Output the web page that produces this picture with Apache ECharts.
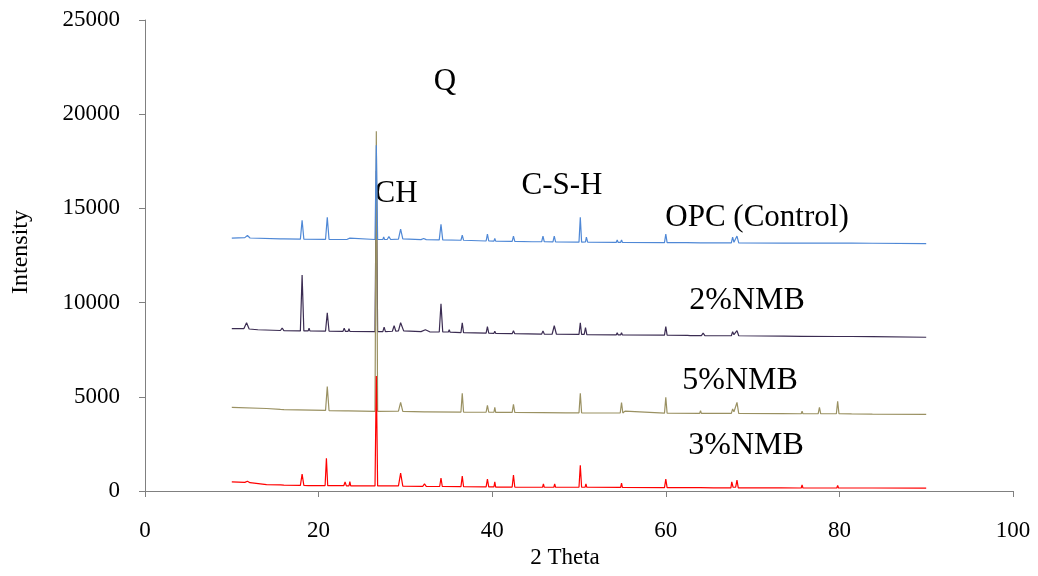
<!DOCTYPE html>
<html>
<head>
<meta charset="utf-8">
<script src="https://cdn.jsdelivr.net/npm/echarts@6/dist/echarts.min.js"></script>
<style>html,body{margin:0;padding:0;background:#fff}#c{width:1038px;height:576px}</style>
</head>
<body>
<div id="c"></div>
<script>
// X-ray diffraction patterns: [2 theta, intensity]
const opcControl = [[10,13420],[11.5,13450],[11.8,13560],[12.1,13430],[15.6,13380],[15.8,13440],[16.0,13380],[17.9,13370],[18.1,14370],[18.3,13370],[20.8,13360],[21.0,14530],[21.2,13360],[22.9,13350],[23.1,13450],[23.3,13360],[23.5,13350],[23.6,13420],[23.8,13350],[26.5,13350],[26.65,18350],[26.8,13350],[27.4,13350],[27.5,13480],[27.6,13350],[27.9,13350],[28.1,13500],[28.3,13350],[29.2,13370],[29.45,13900],[29.7,13380],[31.8,13340],[32.1,13400],[32.4,13340],[33.9,13330],[34.1,14160],[34.3,13330],[36.4,13310],[36.55,13580],[36.7,13310],[39.3,13270],[39.45,13640],[39.6,13270],[40.2,13260],[40.3,13400],[40.4,13260],[42.3,13250],[42.45,13530],[42.6,13250],[44.6,13230],[44.7,13320],[44.8,13230],[45.7,13230],[45.85,13530],[46.0,13230],[47.0,13220],[47.15,13530],[47.3,13220],[50.0,13210],[50.15,14530],[50.3,13210],[50.75,13220],[50.85,13480],[51.0,13210],[54.3,13200],[54.4,13330],[54.5,13200],[54.8,13200],[54.9,13330],[55.0,13200],[59.85,13180],[60.0,13640],[60.15,13180],[62.4,13180],[62.5,13270],[62.6,13170],[64.0,13170],[64.1,13250],[64.2,13170],[67.55,13170],[67.7,13480],[67.85,13200],[68.05,13200],[68.2,13530],[68.4,13170],[73.6,13160],[73.7,13240],[73.8,13160],[75.6,13160],[75.7,13240],[75.8,13160],[77.6,13160],[77.7,13220],[77.8,13160],[79.8,13160],[79.9,13260],[80.0,13160],[81.4,13160],[81.5,13240],[81.6,13160],[83.8,13150],[83.9,13220],[84.0,13150],[90,13130]];

const nmb2 = [[10,8620],[11.4,8620],[11.7,8930],[12.0,8600],[13,8560],[15.6,8520],[15.8,8650],[16.0,8510],[17.9,8500],[18.1,11470],[18.3,8500],[18.8,8500],[18.9,8640],[19.0,8500],[20.8,8490],[21.0,9460],[21.2,8490],[22.8,8470],[22.95,8640],[23.1,8470],[23.4,8470],[23.5,8620],[23.6,8470],[26.5,8460],[26.65,17000],[26.8,8460],[27.4,8460],[27.55,8700],[27.7,8460],[28.5,8480],[28.7,8770],[28.9,8480],[29.2,8500],[29.45,8930],[29.8,8500],[31.8,8460],[32.3,8560],[32.8,8450],[33.9,8440],[34.1,9940],[34.3,8440],[34.95,8440],[35.05,8560],[35.15,8430],[36.4,8410],[36.55,8930],[36.7,8410],[39.3,8380],[39.45,8720],[39.6,8380],[40.2,8370],[40.3,8480],[40.4,8370],[42.3,8350],[42.45,8500],[42.6,8350],[45.7,8330],[45.85,8500],[46.0,8330],[46.9,8320],[47.15,8770],[47.4,8320],[50.0,8310],[50.15,8930],[50.3,8310],[50.6,8310],[50.75,8670],[50.9,8300],[54.3,8290],[54.4,8400],[54.5,8290],[54.8,8290],[54.9,8400],[55.0,8280],[59.85,8270],[60.0,8720],[60.15,8270],[62.5,8260],[62.65,8350],[62.8,8250],[64.1,8250],[64.3,8380],[64.5,8250],[67.55,8240],[67.7,8450],[67.85,8300],[68.05,8300],[68.2,8510],[68.4,8240],[73.6,8220],[73.7,8280],[73.8,8220],[75.6,8210],[75.7,8290],[75.8,8210],[79.8,8200],[79.9,8280],[80.0,8200],[81.4,8200],[81.5,8270],[81.6,8200],[83.8,8190],[83.9,8260],[84.0,8190],[90,8160]];

const nmb5 = [[10,4440],[14,4380],[15.6,4330],[15.8,4400],[16.0,4320],[20.8,4280],[21.0,5550],[21.2,4270],[23.1,4250],[23.25,4350],[23.4,4250],[26.5,4230],[26.65,19100],[26.8,4230],[29.2,4240],[29.45,4700],[29.7,4230],[32.2,4200],[32.35,4280],[32.5,4200],[36.4,4190],[36.55,5180],[36.7,4190],[39.3,4180],[39.45,4550],[39.6,4180],[40.2,4180],[40.3,4440],[40.4,4170],[42.3,4170],[42.45,4600],[42.6,4170],[45.75,4160],[45.85,4260],[45.95,4160],[48.5,4150],[48.6,4230],[48.7,4150],[50.0,4150],[50.15,5180],[50.3,4150],[54.75,4140],[54.9,4700],[55.05,4140],[55.2,4140],[55.3,4240],[55.4,4140],[59.85,4130],[60.0,4970],[60.15,4130],[63.9,4120],[64.0,4260],[64.1,4120],[67.55,4120],[67.7,4350],[67.85,4200],[68.05,4200],[68.2,4700],[68.4,4120],[73.3,4110],[73.4,4170],[73.5,4110],[75.6,4100],[75.7,4230],[75.8,4100],[77.55,4100],[77.7,4440],[77.85,4100],[79.65,4100],[79.8,4760],[79.95,4100],[81.4,4090],[81.5,4170],[81.6,4090],[83.8,4080],[83.9,4150],[84.0,4080],[90,4070]];

const nmb3 = [[10,480],[11.5,460],[11.8,520],[12.1,440],[14,340],[15.6,320],[15.8,420],[16.0,310],[17.9,300],[18.1,900],[18.3,300],[18.8,290],[18.9,380],[19.0,290],[20.75,290],[20.9,1740],[21.05,280],[22.9,280],[23.05,480],[23.2,270],[23.5,270],[23.6,500],[23.7,270],[26.5,270],[26.65,6100],[26.8,270],[29.2,270],[29.45,950],[29.7,260],[32.0,250],[32.2,380],[32.4,250],[33.95,240],[34.1,690],[34.25,240],[36.4,230],[36.55,790],[36.7,230],[39.3,220],[39.45,630],[39.6,220],[40.2,220],[40.3,480],[40.4,210],[42.3,210],[42.45,850],[42.6,210],[45.8,200],[45.9,370],[46.0,200],[47.1,200],[47.2,370],[47.3,200],[50.0,200],[50.15,1370],[50.3,200],[50.7,200],[50.8,370],[50.9,200],[54.8,190],[54.9,420],[55.0,190],[59.85,180],[60.0,630],[60.15,180],[64.0,180],[64.1,260],[64.2,180],[65.5,170],[65.6,240],[65.7,170],[67.5,170],[67.6,480],[67.75,200],[68.05,200],[68.2,580],[68.35,170],[73.3,170],[73.4,240],[73.5,170],[75.6,160],[75.7,320],[75.8,160],[77.6,160],[77.7,220],[77.8,160],[79.7,160],[79.8,300],[79.9,160],[81.4,160],[81.5,230],[81.6,160],[83.8,160],[83.9,210],[84.0,160],[90,150]];

const xTicks = [0, 20, 40, 60, 80, 100];
const yTicks = [0, 5000, 10000, 15000, 20000, 25000];

const seriesNames = ['2%NMB', '5%NMB', 'OPC (Control)', '3%NMB'];
const seriesData = [nmb2, nmb5, opcControl, nmb3];
const seriesColors = ['#3b2c52', '#9a9162', '#4f88d6', '#ff0000'];

const FONT = "'Liberation Serif', 'Times New Roman', serif";
const chart = echarts.init(document.getElementById('c'), null, {renderer: 'canvas'});

function txt(t, x, y, size, rot) {
  return {
    type: 'text', x: x, y: y, rotation: rot || 0,
    style: {text: t, fill: '#000', font: size + 'px ' + FONT, textAlign: 'center', textVerticalAlign: 'middle'}
  };
}

chart.setOption({
  animation: false,
  backgroundColor: '#fff',
  grid: {left: 145, right: 25, top: 20, bottom: 85, containLabel: false},
  xAxis: {
    type: 'value', min: xTicks[0], max: xTicks[xTicks.length - 1], interval: 20,
    axisLine: {show: true, onZero: false, lineStyle: {color: '#808080', width: 1}},
    axisTick: {show: true, inside: false, length: 6, lineStyle: {color: '#808080'}},
    axisLabel: {margin: 28, color: '#000', fontFamily: FONT, fontSize: 23, formatter: v => String(v)},
    splitLine: {show: false}
  },
  yAxis: {
    type: 'value', min: yTicks[0], max: yTicks[yTicks.length - 1], interval: 5000,
    axisLine: {show: true, lineStyle: {color: '#808080', width: 1}},
    axisTick: {show: true, inside: false, length: 6, lineStyle: {color: '#808080'}},
    axisLabel: {margin: 25, color: '#000', fontFamily: FONT, fontSize: 23, formatter: v => String(v)},
    splitLine: {show: false}
  },
  series: seriesData.map((d, i) => ({
    name: seriesNames[i], type: 'line', data: d, showSymbol: false, symbol: 'none',
    lineStyle: {color: seriesColors[i], width: 1.2}, itemStyle: {color: seriesColors[i]},
    z: 2 + i
  })),
  graphic: [
    txt('Intensity', 21, 252, 24, Math.PI / 2),
    txt('2 Theta', 565, 558, 23),
    txt('Q', 445, 82, 31),
    txt('CH', 396, 194, 31),
    txt('C-S-H', 562, 186, 31),
    txt('OPC (Control)', 757, 218, 31),
    txt('2%NMB', 747, 301, 32),
    txt('5%NMB', 740, 381, 32),
    txt('3%NMB', 746, 446, 32)
  ]
});
</script>
</body>
</html>
